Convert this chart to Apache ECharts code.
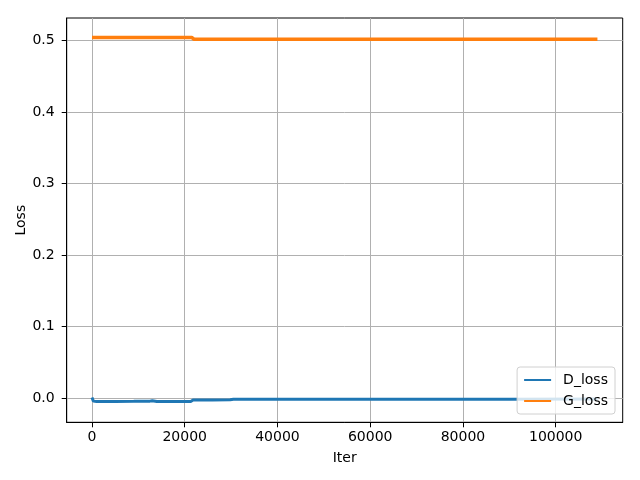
<!DOCTYPE html>
<html>
<head>
<meta charset="utf-8">
<script src="https://cdn.jsdelivr.net/npm/echarts@6/dist/echarts.min.js"></script>
<style>html,body{margin:0;padding:0;background:#fff}#c{width:640px;height:480px}</style>
</head>
<body>
<div id="c"></div>
<script>
var iterD = [0, 300, 1000, 5000, 9000, 12500, 13000, 14000, 17000, 21300, 21800, 26000, 29800, 30500, 50000, 70000, 90000, 109000];
var dLoss = [0.001, -0.004, -0.0045, -0.0045, -0.0043, -0.004, -0.0035, -0.0045, -0.0045, -0.0045, -0.0025, -0.0025, -0.0022, -0.0015, -0.0015, -0.0014, -0.0012, -0.001];
var iterG = [0, 5000, 10000, 15000, 21500, 22000, 50000, 80000, 109000];
var gLoss = [0.5045, 0.5043, 0.5045, 0.5044, 0.5045, 0.502, 0.502, 0.502, 0.502];
var xTicks = [0, 20000, 40000, 60000, 80000, 100000];
var yTicks = [0.0, 0.1, 0.2, 0.3, 0.4, 0.5];
var seriesNames = ['D_loss', 'G_loss'];

function pairs(xs, ys) { return xs.map(function (x, i) { return [x, ys[i]]; }); }

var font = 'DejaVu Sans';
var chart = echarts.init(document.getElementById('c'), null, { renderer: 'canvas' });
chart.setOption({
  animation: false,
  backgroundColor: '#fff',
  grid: { left: 66.7, right: 17.3, top: 18, bottom: 57.7, show: true, borderColor: '#000', borderWidth: 1, backgroundColor: 'transparent' },
  legend: {
    orient: 'vertical', right: 25, bottom: 66,
    data: seriesNames,
    icon: 'rect', itemWidth: 27, itemHeight: 2, itemGap: 7,
    padding: [6, 7, 6, 7],
    backgroundColor: 'rgba(255,255,255,0.8)', borderColor: '#d0d0d0', borderWidth: 1, borderRadius: 3,
    textStyle: { fontFamily: font, fontSize: 14, color: '#000', padding: [0, 0, 0, 7] }
  },
  xAxis: {
    type: 'value', min: -5450, max: 114450,
    name: 'Iter', nameLocation: 'middle', nameGap: 29,
    nameTextStyle: { fontFamily: font, fontSize: 14, color: '#000' },
    axisLine: { show: true, onZero: false, lineStyle: { color: '#000', width: 1 } },
    axisTick: { show: true, inside: false, length: 5, lineStyle: { color: '#000' }, customValues: xTicks },
    axisLabel: { customValues: xTicks, margin: 8, fontFamily: font, fontSize: 14, color: '#000', formatter: function (v) { return String(v); } },
    splitLine: { show: true, lineStyle: { color: '#b0b0b0', width: 1 } }
  },
  yAxis: {
    type: 'value', min: -0.0336, max: 0.5317,
    name: 'Loss', nameLocation: 'middle', nameGap: 38, nameMoveOverlap: false,
    nameTextStyle: { fontFamily: font, fontSize: 14, color: '#000' },
    axisLine: { show: true, onZero: false, lineStyle: { color: '#000', width: 1 } },
    axisTick: { show: true, inside: false, length: 5, lineStyle: { color: '#000' }, customValues: yTicks },
    axisLabel: { customValues: yTicks, margin: 12, fontFamily: font, fontSize: 14, color: '#000', formatter: function (v) { return v.toFixed(1); } },
    splitLine: { show: true, lineStyle: { color: '#b0b0b0', width: 1 } }
  },
  series: [
    { name: seriesNames[0], type: 'line', data: pairs(iterD, dLoss), showSymbol: false, symbol: 'none', color: '#1f77b4', lineStyle: { width: 3, color: '#1f77b4' } },
    { name: seriesNames[1], type: 'line', data: pairs(iterG, gLoss), showSymbol: false, symbol: 'none', color: '#ff7f0e', lineStyle: { width: 3.5, color: '#ff7f0e' } }
  ]
});
</script>
</body>
</html>
